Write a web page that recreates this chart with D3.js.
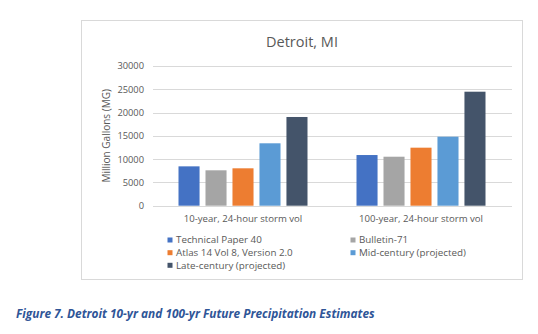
<!DOCTYPE html>
<html>
<head>
<meta charset="utf-8">
<script src="https://cdn.jsdelivr.net/npm/d3@7"></script>
<style>
  html, body { margin: 0; padding: 0; background: #fff; }
  svg { display: block; }
  text { font-family: "Open Sans", "Liberation Sans", sans-serif; }
</style>
</head>
<body>
<svg id="chart" width="538" height="334"></svg>
<script>
// Storm volume categories and the five precipitation estimate series (million gallons)
const categories = ["10-year, 24-hour storm vol", "100-year, 24-hour storm vol"];
const seriesNames = [
  "Technical Paper 40",
  "Bulletin-71",
  "Atlas 14 Vol 8, Version 2.0",
  "Mid-century (projected)",
  "Late-century (projected)"
];
const technicalPaper40 = [8450, 10880];
const bulletin71 = [7600, 10520];
const atlas14 = [8030, 12460];
const midCentury = [13400, 14820];
const lateCentury = [19050, 24480];
const yTicks = [0, 5000, 10000, 15000, 20000, 25000, 30000];
const colors = ["#4472C4", "#A5A5A5", "#ED7D31", "#5B9BD5", "#44546A"];

const seriesValues = [technicalPaper40, bulletin71, atlas14, midCentury, lateCentury];

const svg = d3.select("#chart");

// chart frame
svg.append("rect")
  .attr("x", 81.5).attr("y", 20.5)
  .attr("width", 441).attr("height", 259)
  .attr("fill", "#fff").attr("stroke", "#d9d9d9").attr("stroke-width", 1);

const plot = { left: 154, right: 510, top: 66, bottom: 205.7 };

const y = d3.scaleLinear().domain([0, 30000]).range([plot.bottom, plot.top]);
const x0 = d3.scaleBand().domain(categories).range([plot.left, plot.right]).padding(0);
const x1 = d3.scaleBand().domain(seriesNames)
  .range([24.5, x0.bandwidth() - 24.5]).paddingInner(0.22).paddingOuter(0);

// gridlines
svg.append("g")
  .selectAll("line")
  .data(yTicks)
  .join("line")
  .attr("x1", plot.left - 1).attr("x2", plot.right + 2)
  .attr("y1", d => Math.round(y(d)) + 0.5).attr("y2", d => Math.round(y(d)) + 0.5)
  .attr("stroke", "#d9d9d9").attr("stroke-width", 1);

// y axis tick labels
const yAxis = d3.axisLeft(y).tickValues(yTicks).tickSize(0).tickPadding(0).tickFormat(d3.format("d"));
const yg = svg.append("g").attr("transform", `translate(${plot.left - 10},0)`).call(yAxis);
yg.select(".domain").remove();
yg.selectAll("text")
  .attr("fill", "#595959")
  .style("font-size", "9.3px");

// bars
const groups = svg.append("g")
  .selectAll("g")
  .data(categories)
  .join("g")
  .attr("transform", d => `translate(${x0(d)},0)`);

groups.selectAll("rect")
  .data((c, ci) => seriesNames.map((s, si) => ({ s, si, v: seriesValues[si][ci] })))
  .join("rect")
  .attr("x", d => x1(d.s))
  .attr("width", x1.bandwidth())
  .attr("y", d => y(d.v))
  .attr("height", d => y(0) - y(d.v))
  .attr("fill", d => colors[d.si]);

// category axis labels
const xAxis = d3.axisBottom(x0).tickSize(0).tickPadding(0);
const xg = svg.append("g").attr("transform", `translate(0,${plot.bottom + 16.5})`).call(xAxis);
xg.select(".domain").remove();
xg.selectAll("text")
  .attr("dy", 0)
  .attr("fill", "#595959")
  .style("font-size", "9.6px");

// title
svg.append("text")
  .attr("x", 302).attr("y", 47)
  .attr("text-anchor", "middle")
  .attr("fill", "#595959")
  .style("font-size", "14.5px")
  .text("Detroit, MI");

// y axis title
svg.append("text")
  .attr("transform", `translate(109.5,${(plot.top + plot.bottom) / 2}) rotate(-90)`)
  .attr("text-anchor", "middle")
  .attr("fill", "#595959")
  .style("font-size", "10px")
  .text("Million Gallons (MG)");

// legend, two columns
const legendCols = [167.5, 350.5];
const legendRows = [240, 252.7, 265.3];
const legend = svg.append("g")
  .selectAll("g")
  .data(seriesNames)
  .join("g")
  .attr("transform", (d, i) => `translate(${legendCols[i % 2]},${legendRows[Math.floor(i / 2)]})`);
legend.append("rect")
  .attr("x", 0).attr("y", -2.5)
  .attr("width", 5).attr("height", 5)
  .attr("fill", (d, i) => colors[i]);
legend.append("text")
  .attr("x", 8.5).attr("y", 0)
  .attr("dy", "0.35em")
  .attr("fill", "#595959")
  .style("font-size", "9.8px")
  .text(d => d);

// figure caption, sized to span the text column
const caption = svg.append("text")
  .attr("x", 16).attr("y", 318)
  .attr("fill", "#2F5597")
  .style("font-size", "11px")
  .style("font-weight", "bold")
  .style("font-style", "italic")
  .text("Figure 7. Detroit 10-yr and 100-yr Future Precipitation Estimates");
const captionWidth = caption.node().getComputedTextLength();
if (captionWidth > 0) caption.style("font-size", (11 * 359 / captionWidth).toFixed(2) + "px");
</script>
</body>
</html>
